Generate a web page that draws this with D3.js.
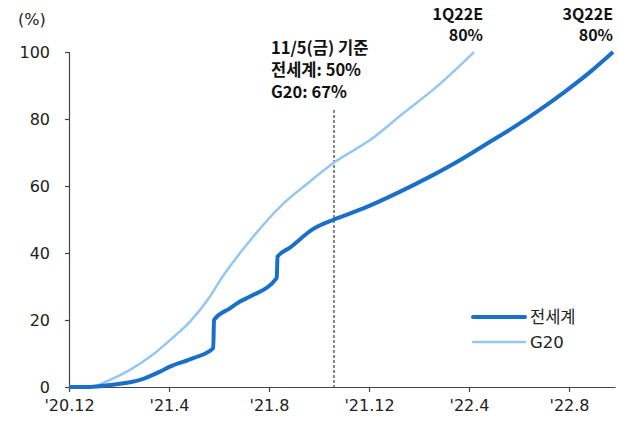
<!DOCTYPE html>
<html>
<head>
<meta charset="utf-8">
<script src="https://cdn.jsdelivr.net/npm/d3@7"></script>
<style>
  html, body { margin: 0; padding: 0; background: #fff; }
  svg { display: block; font-family: "DejaVu Sans", "Noto Sans CJK KR", sans-serif; }
</style>
</head>
<body>
<svg id="chart" width="619" height="423"></svg>
<script>
// Months elapsed since Dec 2020, and cumulative vaccination rate (%)
const worldMonths = [0, 0.84, 1.64, 2.84, 3.64, 4.04, 4.97, 5.77, 5.8, 6.44, 6.84, 7.24, 8.31, 8.34, 8.84, 9.77, 10.6, 11.77, 13.1, 14.44, 15.77, 16.84, 17.84, 18.84, 19.84, 20.84, 21.76];
const worldValues = [0, 0, 0.6, 2.1, 4.6, 6.1, 8.6, 11.6, 20.0, 23.5, 25.5, 27.0, 32.6, 38.9, 41.6, 47.2, 50, 53.3, 57.8, 62.8, 68.3, 73.2, 77.8, 82.8, 88.2, 94.0, 100];

const g20Months = [0, 0.84, 1.64, 2.44, 3.24, 4.04, 4.84, 5.64, 6.04, 7.1, 8.44, 9.5, 10.6, 12.04, 13.37, 14.7, 16.2];
const g20Values = [0, 0, 2.1, 5.1, 9.0, 14.0, 19.5, 27.0, 31.8, 42.4, 53.8, 60.5, 67, 73.7, 81.7, 89.6, 100];

const xTickMonths = [0, 4, 8, 12, 16, 20];
const xTickLabels = ["'20.12", "'21.4", "'21.8", "'21.12", "'22.4", "'22.8"];
const yTicks = [0, 20, 40, 60, 80, 100];

const seriesNames = ["전세계", "G20"];
const markerMonth = 10.6;
const markerLines = ["11/5(금) 기준", "전세계: 50%", "G20: 67%"];
const targetLabels = [
  { month: 16.2, lines: ["1Q22E", "80%"] },
  { month: 21.76, lines: ["3Q22E", "80%"] }
];

const DARK = "#1a70c8";
const LIGHT = "#95c7f4";
const AXIS = "#444";
const BOLD_FONT = "Noto Sans CJK KR, sans-serif";

const svg = d3.select("#chart");
const x = d3.scaleLinear().domain([0, 21.84]).range([69, 615]);
const y = d3.scaleLinear().domain([0, 100]).range([387, 52]);

// y axis
const yAxis = d3.axisLeft(y).tickValues(yTicks).tickSize(4).tickPadding(15);
const gy = svg.append("g").attr("transform", `translate(${x(0)},0)`).call(yAxis);
gy.select(".domain").attr("stroke", AXIS).attr("stroke-width", 1.2);
gy.selectAll(".tick line").attr("stroke", AXIS).attr("stroke-width", 1.2);
gy.selectAll(".tick text").attr("font-size", 16).attr("fill", "#222")
  .attr("font-family", "DejaVu Sans, sans-serif");

// x axis
const xAxis = d3.axisBottom(x).tickValues(xTickMonths)
  .tickFormat((d, i) => xTickLabels[i]).tickSize(5).tickPadding(8).tickSizeOuter(0);
const gx = svg.append("g").attr("transform", `translate(0,${y(0)})`).call(xAxis);
gx.select(".domain").attr("stroke", AXIS).attr("stroke-width", 1.2);
gx.selectAll(".tick line").attr("stroke", AXIS).attr("stroke-width", 1.2);
gx.selectAll(".tick text").attr("font-size", 16).attr("fill", "#222")
  .attr("font-family", "DejaVu Sans, sans-serif");

svg.append("text").attr("x", 18).attr("y", 25).attr("font-size", 16).attr("fill", "#222").text("(%)");

// marker line on the reference date
svg.append("line")
  .attr("x1", x(markerMonth)).attr("x2", x(markerMonth))
  .attr("y1", 110).attr("y2", y(0))
  .attr("stroke", "#111").attr("stroke-width", 1).attr("stroke-dasharray", "3,2");

const line = d3.line().x(d => x(d[0])).y(d => y(d[1])).curve(d3.curveMonotoneX);

svg.append("path")
  .datum(d3.zip(g20Months, g20Values))
  .attr("d", line).attr("fill", "none").attr("stroke", LIGHT).attr("stroke-width", 2.5);

svg.append("path")
  .datum(d3.zip(worldMonths, worldValues))
  .attr("d", line).attr("fill", "none").attr("stroke", DARK).attr("stroke-width", 4)
  .attr("stroke-linejoin", "round");

// annotation
const ann = svg.append("text").attr("x", 271).attr("font-size", 16.5).attr("font-weight", "bold")
  .attr("font-family", BOLD_FONT).attr("fill", "#111");
markerLines.forEach((t, i) => ann.append("tspan").attr("x", 271).attr("y", 54 + i * 22).text(t));

// target labels above line ends, one text per row
targetLabels.forEach(tl => {
  const tx = Math.min(x(tl.month) + 9, 613);
  tl.lines.forEach((s, i) => svg.append("text").attr("text-anchor", "end").attr("font-size", 16)
    .attr("font-weight", "bold").attr("font-family", BOLD_FONT).attr("fill", "#111")
    .attr("x", tx).attr("y", 20 + i * 21).text(s));
});

// legend
const legend = svg.append("g");
[DARK, LIGHT].forEach((c, i) => {
  const ly = 317 + i * 25;
  legend.append("line").attr("x1", 473).attr("x2", 525).attr("y1", ly).attr("y2", ly)
    .attr("stroke", c).attr("stroke-width", i === 0 ? 4 : 2.5).attr("stroke-linecap", "round");
  legend.append("text").attr("x", 530).attr("y", ly).attr("dy", "0.35em")
    .attr("font-size", 16.5).attr("fill", "#222").text(seriesNames[i]);
});
</script>
</body>
</html>
